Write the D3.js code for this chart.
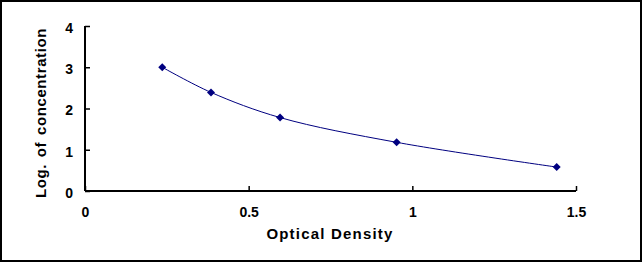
<!DOCTYPE html>
<html>
<head>
<meta charset="utf-8">
<script src="https://cdn.jsdelivr.net/npm/d3@7"></script>
<style>
  body { margin: 0; background: #fff; }
  text { font-family: "Liberation Sans", Arial, sans-serif; font-weight: bold; }
</style>
</head>
<body>
<div id="chart"></div>
<script>
// data
var od = [0.236, 0.385, 0.596, 0.952, 1.441];
var logConc = [3.0, 2.39, 1.78, 1.18, 0.58];
var xTicks = [0, 0.5, 1, 1.5];
var yTicks = [0, 1, 2, 3, 4];

var svgWidth = 642;
var svgHeight = 262;

var margin = { top: 26, right: 66, bottom: 71, left: 85 };
var width = 576 - margin.left;
var height = 191 - margin.top;

var svg = d3.select("#chart")
  .append("svg")
  .attr("width", svgWidth)
  .attr("height", svgHeight);

// outer frame
svg.append("rect")
  .attr("x", 1)
  .attr("y", 1)
  .attr("width", svgWidth - 2)
  .attr("height", svgHeight - 2)
  .attr("fill", "none")
  .attr("stroke", "#000")
  .attr("stroke-width", 2);

var chartGroup = svg.append("g")
  .attr("transform", `translate(${margin.left}, ${margin.top})`);

var xScale = d3.scaleLinear().domain([0, 1.5]).range([0, width]);
var yScale = d3.scaleLinear().domain([0, 4]).range([height, 0]);

// axes, ticks pointing inside
var bottomAxis = d3.axisBottom(xScale)
  .tickValues(xTicks)
  .tickSize(-5)
  .tickPadding(16)
  .tickFormat(d3.format("~g"));
var leftAxis = d3.axisLeft(yScale)
  .tickValues(yTicks)
  .tickSize(-5)
  .tickPadding(12)
  .tickFormat(d3.format("~g"));

var xAxis = chartGroup.append("g")
  .attr("transform", `translate(0, ${height})`)
  .call(bottomAxis);

var yAxis = chartGroup.append("g")
  .call(leftAxis);

[xAxis, yAxis].forEach(function(ax) {
  ax.select(".domain").attr("stroke-width", 2);
  ax.selectAll(".tick line").attr("stroke-width", 1.5);
  ax.selectAll(".tick text")
    .attr("font-size", "14px")
    .attr("font-family", "Liberation Sans, Arial, sans-serif")
    .attr("font-weight", "bold")
    .attr("fill", "#000");
});
yAxis.selectAll(".tick text").attr("dy", "0.45em");
// remove outer tick stubs
xAxis.select(".domain").attr("d", `M0.5,0H${width}`);
yAxis.select(".domain").attr("d", `M0,${height}V0`);

var points = od.map((d, i) => ({ x: d, y: logConc[i] }));

var line = d3.line()
  .x(d => xScale(d.x))
  .y(d => yScale(d.y))
  .curve(d3.curveCatmullRom);

chartGroup.append("path")
  .datum(points)
  .attr("d", line)
  .attr("fill", "none")
  .attr("stroke", "#000080")
  .attr("stroke-width", 1);

chartGroup.selectAll(".marker")
  .data(points)
  .enter()
  .append("path")
  .attr("class", "marker")
  .attr("transform", d => `translate(${xScale(d.x)}, ${yScale(d.y)})`)
  .attr("d", "M0,-4L4,0L0,4L-4,0Z")
  .attr("fill", "#000080");

// axis labels
svg.append("text")
  .attr("x", 330)
  .attr("y", 239)
  .attr("text-anchor", "middle")
  .attr("font-size", "15px")
  .attr("letter-spacing", "1.2px")
  .text("Optical Density");

svg.append("text")
  .attr("transform", "translate(46, 113) rotate(-90)")
  .attr("text-anchor", "middle")
  .attr("font-size", "15px")
  .attr("letter-spacing", "0.6px")
  .attr("word-spacing", "2px")
  .text("Log. of concentration");
</script>
</body>
</html>
